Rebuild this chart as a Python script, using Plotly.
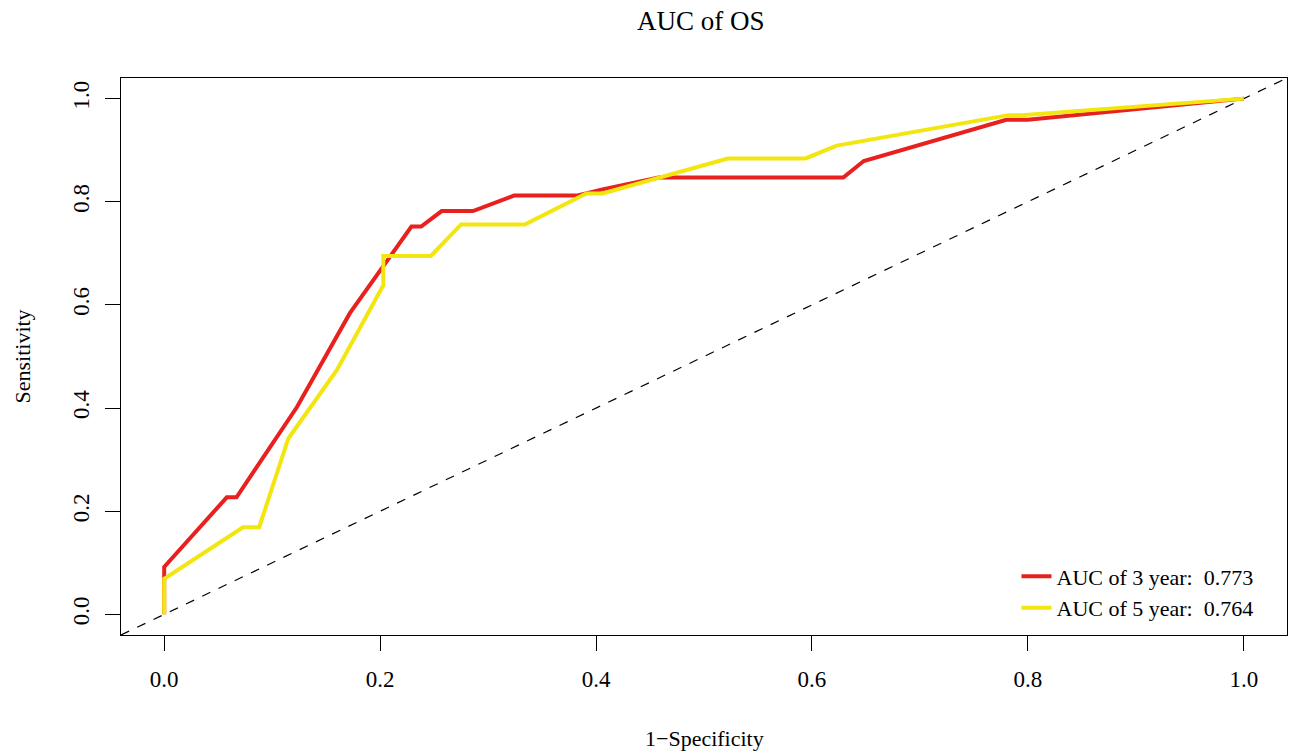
import plotly.graph_objects as go

# 3-year ROC curve (red)
fpr_3y = [0, 0, 0.058, 0.067, 0.123, 0.172, 0.229, 0.238, 0.257, 0.286, 0.324, 0.382, 0.406, 0.458, 0.629, 0.648, 0.780, 0.800, 1.0]
tpr_3y = [0, 0.092, 0.227, 0.227, 0.402, 0.584, 0.752, 0.752, 0.782, 0.782, 0.812, 0.812, 0.824, 0.847, 0.847, 0.879, 0.959, 0.959, 1.0]

# 5-year ROC curve (yellow)
fpr_5y = [0, 0, 0.073, 0.088, 0.115, 0.160, 0.203, 0.203, 0.247, 0.275, 0.334, 0.391, 0.406, 0.522, 0.594, 0.623, 0.782, 0.794, 1.0]
tpr_5y = [0, 0.069, 0.169, 0.169, 0.341, 0.474, 0.638, 0.695, 0.695, 0.756, 0.756, 0.816, 0.816, 0.884, 0.884, 0.909, 0.968, 0.968, 1.0]

auc_labels = ["AUC of 3 year:\u00a0\u00a00.773", "AUC of 5 year:\u00a0\u00a00.764"]
tick_vals = [0.0, 0.2, 0.4, 0.6, 0.8, 1.0]
tick_text = ["0.0", "0.2", "0.4", "0.6", "0.8", "1.0"]
diag = [-0.04, 1.04]

FONT = "Liberation Serif, Times New Roman, Times, serif"
RED = "#E8211E"
YELLOW = "#F3E50E"

fig = go.Figure()
fig.add_trace(go.Scatter(x=diag, y=diag, mode="lines", showlegend=False,
                         line=dict(color="black", width=1.2, dash="dash"), hoverinfo="skip"))
fig.add_trace(go.Scatter(x=fpr_3y, y=tpr_3y, mode="lines", name=auc_labels[0],
                         line=dict(color=RED, width=4)))
fig.add_trace(go.Scatter(x=fpr_5y, y=tpr_5y, mode="lines", name=auc_labels[1],
                         line=dict(color=YELLOW, width=4)))

axis_common = dict(
    range=[-0.04, 1.04], showgrid=False, zeroline=False,
    showline=True, mirror=True, linecolor="black", linewidth=1,
    ticks="outside", ticklen=15, tickwidth=1, tickcolor="black",
    tickvals=tick_vals, ticktext=tick_text,
    tickfont=dict(family=FONT, size=23, color="black"),
)

fig.update_layout(
    width=1290, height=753,
    paper_bgcolor="white", plot_bgcolor="white",
    margin=dict(l=121, r=3, t=78, b=118),
    font=dict(family=FONT, size=22, color="black"),
    xaxis=dict(**axis_common, ticklabelstandoff=8),
    yaxis=dict(**axis_common, tickangle=-90, ticklabelstandoff=7),
    showlegend=True,
    legend=dict(x=0.768, y=0.01, xanchor="left", yanchor="bottom",
                bgcolor="rgba(0,0,0,0)", borderwidth=0,
                font=dict(family=FONT, size=22, color="black"),
                tracegroupgap=0, itemwidth=30),
    annotations=[
        dict(text="AUC of OS", xref="paper", yref="paper", x=0.497, y=1.0,
             yshift=57, xanchor="center", yanchor="middle", showarrow=False,
             font=dict(family=FONT, size=27, color="black")),
        dict(text="1\u2212Specificity", xref="paper", yref="paper", x=0.5, y=0,
             yshift=-103, xanchor="center", yanchor="middle", showarrow=False,
             font=dict(family=FONT, size=22, color="black")),
        dict(text="Sensitivity", xref="paper", yref="paper", x=0, y=0.5,
             xshift=-99, xanchor="center", yanchor="middle", showarrow=False,
             textangle=-90, font=dict(family=FONT, size=22, color="black")),
    ],
)

fig.write_html("out.html", config={"displayModeBar": False},
               post_script="document.body.style.margin='0';document.body.style.overflow='hidden';")
